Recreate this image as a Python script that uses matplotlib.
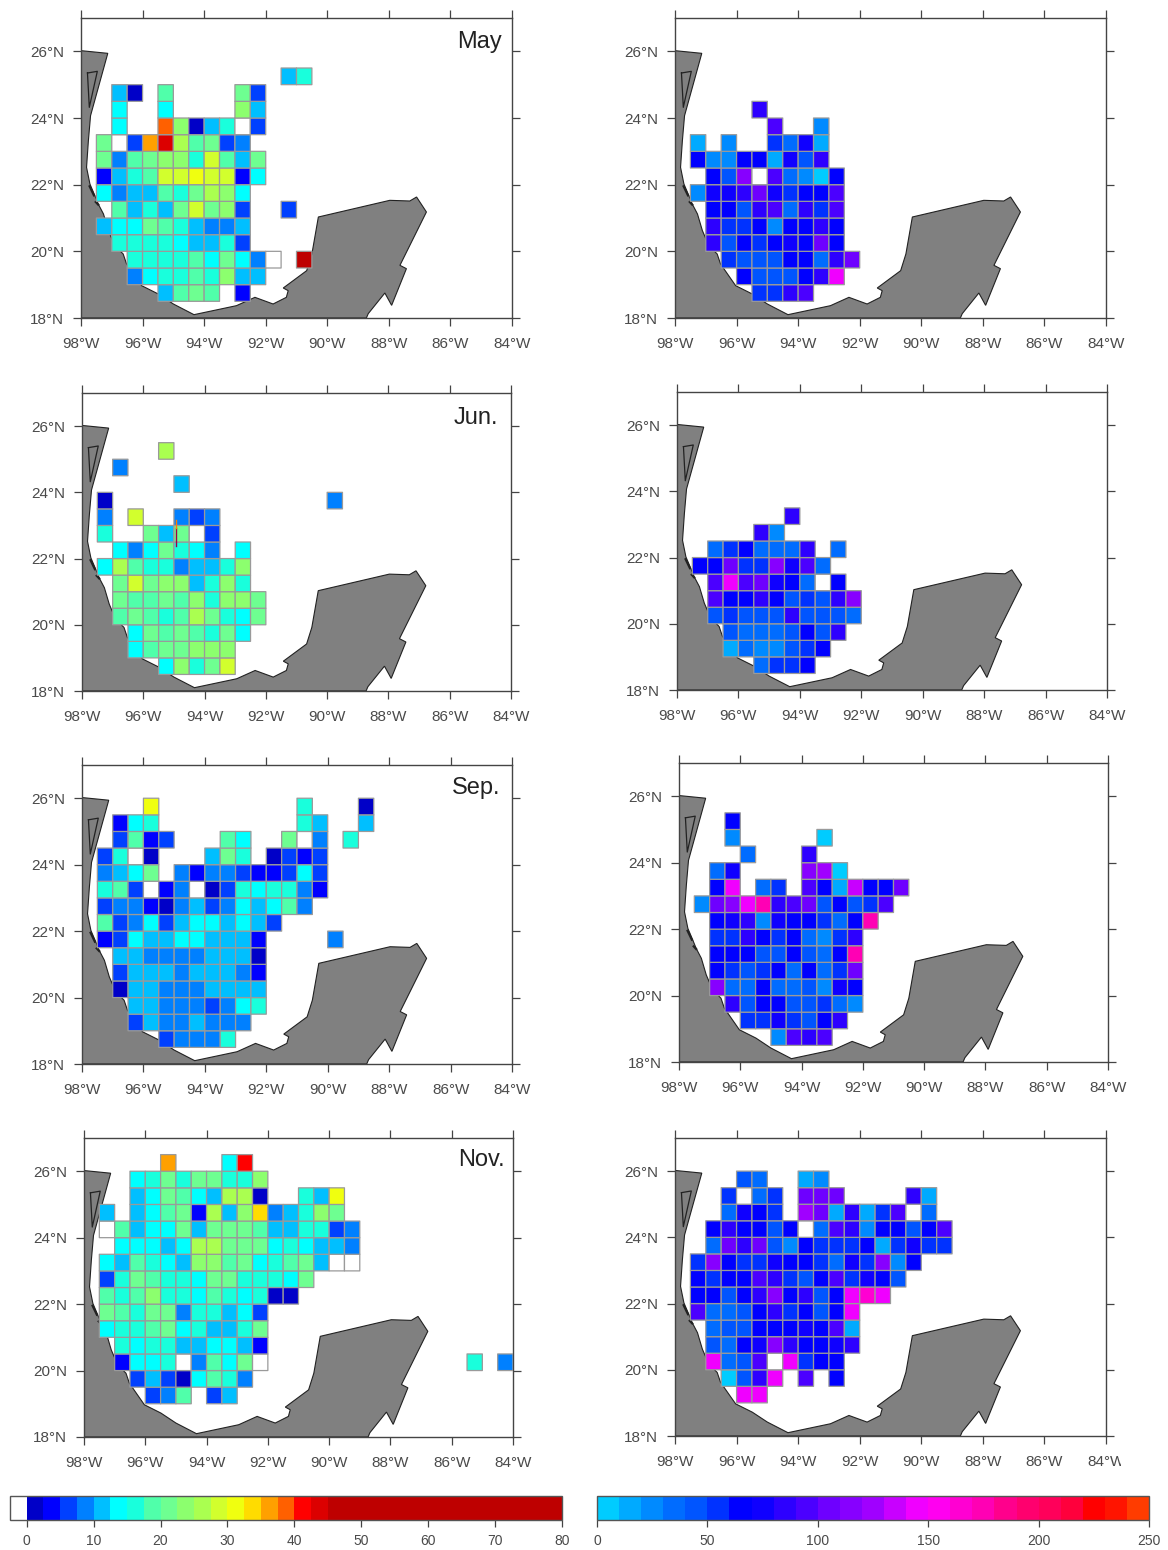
import matplotlib
matplotlib.use('Agg')
import matplotlib.pyplot as plt
import numpy as np
from matplotlib.colors import ListedColormap, BoundaryNorm
from matplotlib.cm import ScalarMappable
from matplotlib.transforms import Bbox

plt.rcParams['font.family'] = ['Liberation Sans', 'DejaVu Sans']

W, H = 1168, 1550
N = None

months = ['May', 'Jun.', 'Sep.', 'Nov.']
lon_ticks = [-98, -96, -94, -92, -90, -88, -86, -84]
lat_ticks = [18, 20, 22, 24, 26]

# each row: south edge of the cell, first column (0.5 deg steps from 98W), values
# -1 means a cell below zero (drawn white)
may_left = [
    (25.0, 13, [11, 16]),
    (24.5, 2, [11, 1, N, 18, N, N, N, N, 21, 6]),
    (24.0, 2, [14, N, N, 14, N, N, N, N, 24, 11]),
    (23.5, 2, [14, N, N, 39, 24, 1, 11, 16, -1, 6]),
    (23.0, 1, [21, -1, 6, 36, 43, 26, 18, 21, 6, 8]),
    (22.5, 1, [21, 8, 18, 21, 23, 24, 16, 28, 18, 11, 21]),
    (22.0, 1, [3, 11, 16, 18, 28, 29, 31, 28, 29, 3, 14]),
    (21.5, 1, [14, 8, 11, 11, 18, 16, 20, 26, 23, 14]),
    (21.0, 2, [18, 11, 16, 11, 21, 28, 21, 23, 6, N, N, 6]),
    (20.5, 1, [11, 14, 14, 21, 18, 16, 11, 8, 8, 11]),
    (20.0, 2, [16, 16, 16, 16, 14, 11, 11, 16, 6]),
    (19.5, 3, [16, 16, 16, 16, 18, 14, 21, 14, 8, -1, N, 60]),
    (19.0, 3, [8, 14, 16, 16, 18, 16, 23, 11, 11]),
    (18.5, 5, [11, 18, 21, 18, N, 3]),
]
may_right = [
    (24.0, 5, [85]),
    (23.5, 6, [90, N, N, 25]),
    (23.0, 1, [15, N, 25, N, N, 50, 35, 75, 15]),
    (22.5, 1, [60, 25, 20, 65, 65, 12, 75, 45, 85]),
    (22.0, 2, [65, 45, 115, -1, 90, 35, 20, 5, 65]),
    (21.5, 1, [25, 70, 70, 85, 105, 70, 50, 65, 60, 95]),
    (21.0, 2, [65, 65, 42, 85, 90, 35, 85, 50, 90]),
    (20.5, 2, [85, 50, 50, 65, 25, 65, 65, 85, 65]),
    (20.0, 2, [85, 45, 65, 50, 65, 75, 65, 105, 65]),
    (19.5, 3, [50, 45, 45, 45, 65, 65, 35, 85, 105]),
    (19.0, 4, [65, 45, 45, 45, 65, 80, 145]),
    (18.5, 5, [50, 50, 85, 90]),
]
jun_left = [
    (25.0, 5, [26]),
    (24.5, 2, [8]),
    (24.0, 6, [11]),
    (23.5, 1, [2, N, N, N, N, N, N, N, N, N, N, N, N, N, N, 8]),
    (23.0, 1, [8, N, 28, N, N, 8, 6, 8]),
    (22.5, 1, [16, N, N, 21, 11, 21, -1, 6]),
    (22.0, 2, [14, 8, 14, 21, 16, 14, 8, N, 14]),
    (21.5, 1, [14, 26, 18, 16, 16, 8, 11, 11, 16, 24]),
    (21.0, 2, [21, 28, 20, 23, 23, 11, 16, 23, 16]),
    (20.5, 2, [20, 18, 18, 20, 18, 23, 16, 23, 23, 21]),
    (20.0, 2, [18, 21, 18, 16, 18, 26, 20, 16, 14, 21]),
    (19.5, 3, [14, 21, 18, 21, 18, 16, 20, 14]),
    (19.0, 3, [14, 18, 21, 21, 23, 23, 24]),
    (18.5, 5, [14, 23, 16, 21, 28]),
]
jun_right = [
    (23.0, 7, [85]),
    (22.5, 5, [80, 22]),
    (22.0, 2, [35, 50, 62, 35, 30, 35, 80, N, 35]),
    (21.5, 1, [62, 65, 105, 50, 50, 115, 78, 95, 35]),
    (21.0, 2, [90, 145, 90, 100, 75, 65, 35, -1, 62]),
    (20.5, 2, [90, 62, 62, 85, 62, 45, 50, 45, 85, 115]),
    (20.0, 2, [45, 50, 45, 45, 45, 80, 45, 45, 45, 35]),
    (19.5, 3, [45, 35, 35, 35, 45, 62, 45, 80]),
    (19.0, 3, [15, 35, 22, 22, 45, 50, 62]),
    (18.5, 5, [35, 50, 50, 62]),
]
sep_left = [
    (25.5, 4, [30, N, N, N, N, N, N, N, N, N, 16, N, N, N, 2]),
    (25.0, 2, [3, 14, 16, N, N, N, N, N, N, N, N, N, 16, 11, N, N, 11]),
    (24.5, 2, [6, 18, 3, 6, N, N, N, 18, 14, N, N, 21, -1, 8, N, 16]),
    (24.0, 1, [6, 16, -1, 2, N, N, N, 11, 21, 16, N, 1, 6, 3, 6]),
    (23.5, 1, [8, 11, 14, 21, N, 8, 3, 8, 8, 6, 3, 3, 6, 14, 6]),
    (23.0, 1, [16, 18, 6, -1, 3, 8, -1, 1, 6, 16, 14, 16, 16, 8, 3]),
    (22.5, 1, [6, 8, 8, 3, 2, 8, 11, 6, 8, 14, 11, 14, 18, 8]),
    (22.0, 1, [18, 6, 8, 14, 6, 11, 14, 14, 11, 14, 11, 6]),
    (21.5, 1, [3, 6, 14, 11, 11, 14, 14, 11, 11, 11, 3, N, N, N, N, 8]),
    (21.0, 2, [11, 11, 8, 8, 8, 8, 11, 11, 11, 1]),
    (20.5, 2, [6, 11, 11, 11, 8, 11, 11, 11, 8, 3]),
    (20.0, 2, [1, 11, 11, 8, 8, 8, 11, 11, 11, 11]),
    (19.5, 3, [11, 11, 8, 8, 8, 6, 8, 14, 16]),
    (19.0, 3, [6, 11, 8, 8, 11, 8, 8, 8]),
    (18.5, 5, [6, 8, 8, 8, 16]),
]
sep_right = [
    (25.0, 3, [65]),
    (24.5, 3, [25, N, N, N, N, N, 5]),
    (24.0, 4, [35, N, N, N, 80]),
    (23.5, 2, [35, 70, N, N, N, N, 115, 120, 5]),
    (23.0, 2, [65, 145, N, 35, 50, N, 95, 65, 12, 135, 65, 65, 100]),
    (22.5, 1, [25, 100, 115, 145, 170, 85, 95, 105, 45, 62, 42, 50, 95]),
    (22.0, 2, [65, 70, 85, 20, 70, 65, 65, 50, 30, 65, 175]),
    (21.5, 2, [50, 50, 85, 65, 50, 65, 35, 22, 50, 85]),
    (21.0, 2, [65, 62, 62, 45, 45, 65, 45, 35, 65, 175]),
    (20.5, 2, [65, 50, 45, 50, 62, 35, 65, 35, 50, 105]),
    (20.0, 2, [115, 35, 35, 65, 35, 35, 45, 20, 70, 65]),
    (19.5, 3, [85, 45, 62, 65, 45, 45, 50, 35, 22]),
    (19.0, 4, [50, 50, 70, 50, 45, 65, 85]),
    (18.5, 6, [22, 90, 80, 90]),
]
nov_left = [
    (26.0, 5, [36, N, N, N, 14, 41]),
    (25.5, 3, [14, 16, 21, 16, 21, 21, 16, 16, 23]),
    (25.0, 3, [11, 14, 21, 18, 14, 11, 26, 26, 1, N, N, 16, 11, 31]),
    (24.5, 1, [11, N, 11, 14, 18, 21, 3, 26, 11, 23, 33, 8, 11, 16, 24, 21]),
    (24.0, 1, [-1, 18, 11, 14, 14, 21, 11, 20, 20, 21, 18, 11, 11, 16, 16, 6, 8]),
    (23.5, 2, [14, 14, 14, 11, 14, 26, 26, 21, 21, 21, 14, 16, 14, 11, 11, 8]),
    (23.0, 1, [14, 11, 18, 16, 14, 11, 23, 23, 18, 20, 14, 16, 18, 21, 11, -1, -1]),
    (22.5, 1, [6, 16, 21, 18, 16, 16, 14, 21, 21, 16, 16, 16, 14, 21]),
    (22.0, 1, [18, 16, 18, 23, 16, 16, 14, 18, 16, 14, 16, 1, 1]),
    (21.5, 1, [21, 18, 16, 21, 21, 8, 16, 16, 11, 14, 6]),
    (21.0, 1, [14, 16, 16, 18, 21, 14, 16, 11, 11, 16, 21]),
    (20.5, 2, [16, 14, 16, 16, 11, 11, 14, 14, 11, 3]),
    (20.0, 2, [3, 14, 14, 16, -1, 8, 18, 14, 21, -1, N, N, N, N, N, N, N, N, N, N, N, N, N, 16, N, 8]),
    (19.5, 3, [6, 11, 6, 2, 14, 18, 16, 8]),
    (19.0, 4, [6, 8, 18, N, 6, 11]),
]
nov_right = [
    (25.5, 4, [42, 30, N, N, 15, 20]),
    (25.0, 3, [50, -1, 35, 50, N, 105, 105, 100, N, N, N, N, 85, 15]),
    (24.5, 3, [35, 70, 65, 50, N, 125, 105, 15, 80, 15, 50, 90, -1, 35]),
    (24.0, 2, [65, 85, 65, 65, 45, 62, -1, 35, 90, 80, 20, 62, 62, 45, 65, 90]),
    (23.5, 2, [35, 105, 80, 105, 45, 20, 68, 55, 50, 55, 65, 15, 50, 75, 50, 55]),
    (23.0, 1, [50, 110, 65, 50, 50, 78, 62, 68, 50, 35, 75, 50, 110, 20, 65]),
    (22.5, 1, [62, 50, 65, 62, 90, 85, 50, 45, 62, 90, 50, 75, 65, 42]),
    (22.0, 1, [62, 62, 45, 62, 80, 115, 62, 80, 45, 65, 145, 165, 145]),
    (21.5, 1, [90, 35, 35, 45, 62, 85, 50, 62, 45, 65, 145]),
    (21.0, 2, [35, 45, 42, 65, 62, 65, 78, 65, 90, 15]),
    (20.5, 2, [45, 35, 62, 78, 115, 85, 65, 65, 78, 85]),
    (20.0, 2, [145, 35, 45, 90, -1, 145, 50, 62, 62]),
    (19.5, 3, [5, 45, 80, 145, N, 95, N, 62]),
    (19.0, 4, [145, 145]),
]

# thin stray streak in the June panel
jun_streak_lon = -94.94
jun_streak_lat = [22.38, 22.93, 23.15]

coast_lon = [-98, -97.13, -97.69, -97.76, -97.82, -97.71, -97.55, -97.44, -97.27, -97.11, -96.9,
             -96.63, -96.52, -96.03, -95.49, -95.0, -94.33, -92.95, -92.35, -91.76, -91.33, -91.27,
             -91.43, -90.67, -90.5, -90.29, -87.97, -87.32, -87.1, -86.78, -87.64, -87.43, -87.91,
             -88.13, -88.67, -88.73, -98]
coast_lat = [26.02, 25.94, 24.07, 23.32, 22.52, 22.02, 21.67, 21.42, 21.12, 20.62, 20.17,
             19.92, 19.62, 18.97, 18.72, 18.42, 18.1, 18.37, 18.62, 18.42, 18.62, 18.82,
             18.9, 19.42, 19.92, 21.03, 21.53, 21.51, 21.63, 21.18, 19.58, 19.48, 18.38,
             18.75, 18.13, 18.0, 18.0]
lagoon_lon = [-97.79, -97.47, -97.73, -97.79]
lagoon_lat = [25.35, 25.40, 24.32, 25.35]
shoal_lon = [-97.72, -97.58, np.nan, -97.52, -97.44]
shoal_lat = [21.95, 21.68, np.nan, 21.48, 21.40]

left_levels = [-2.5, 0, 2.5, 5, 7.5, 10, 12.5, 15, 17.5, 20, 22.5, 25, 27.5, 30, 32.5, 35, 37.5, 40, 42.5, 45, 80]
left_colors = ['#ffffff', '#0000c8', '#0000ff', '#0040ff', '#0080ff', '#00bfff', '#00ffff', '#19ffdc',
               '#50ffaa', '#6eff91', '#8cff6e', '#aaff50', '#d2ff2d', '#f0ff0f', '#ffdc00', '#ffa000',
               '#ff6000', '#ff0000', '#dc0000', '#be0000']
left_ticks = [0, 10, 20, 30, 40, 50, 60, 70, 80]
right_levels = [-10] + list(range(0, 260, 10))
right_colors = ['#ffffff', '#00ccff', '#00aaff', '#008aff', '#006cff', '#0055ff', '#0032ff', '#0000ff',
                '#0f00ff', '#2d00ff', '#4b00ff', '#6e00ff', '#8700ff', '#a000ff', '#c800ff', '#f000ff',
                '#ff00f0', '#ff00d2', '#ff00b4', '#ff008c', '#ff006e', '#ff005a', '#ff003c', '#ff0000',
                '#ff1400', '#ff3c00']
right_ticks = [0, 50, 100, 150, 200, 250]

# panel frames in pixels: left, right, top, bottom
frames = [
    (81, 512, 18, 318), (675, 1106, 18, 318),
    (82, 511, 393, 691), (677, 1107, 392, 690),
    (82, 512, 765, 1064), (679, 1108, 763, 1062),
    (84, 513, 1138, 1437), (675, 1106, 1138, 1436),
]
panels = [may_left, may_right, jun_left, jun_right, sep_left, sep_right, nov_left, nov_right]
month_pos = [(502, 42), (498, 418), (500, 788), (505, 1160)]

left_cmap = ListedColormap(left_colors)
left_norm = BoundaryNorm(left_levels, left_cmap.N)
right_cmap = ListedColormap(right_colors)
right_norm = BoundaryNorm(right_levels, right_cmap.N)

grey = '#444444'
cell_edge = '#9a9a9a'
text_col = '#4a4a4a'


def px_axes(l, r, t, b):
    return fig.add_axes([l / W, 1 - b / H, (r - l) / W, (b - t) / H])


def to_grid(rows):
    grid = np.full((18, 28), np.nan)
    for lat, col, vals in rows:
        j = int((lat - 18) * 2)
        for i, v in enumerate(vals):
            if v is not None:
                grid[j, col + i] = v
    return np.ma.masked_invalid(grid)


fig = plt.figure(figsize=(W / 100, H / 100), dpi=100)
lon_edges = np.arange(-98, -83.9, 0.5)
lat_edges = np.arange(18, 27.1, 0.5)

for k, (frame, rows) in enumerate(zip(frames, panels)):
    ax = px_axes(*frame)
    ax.fill(coast_lon, coast_lat, facecolor='#808080', edgecolor='#222222', lw=0.8, zorder=1)
    ax.plot(lagoon_lon, lagoon_lat, color='#222222', lw=0.9, zorder=2)
    ax.plot(shoal_lon, shoal_lat, color='#222222', lw=1.6, zorder=2)
    if k % 2 == 0:
        cmap, norm = left_cmap, left_norm
    else:
        cmap, norm = right_cmap, right_norm
    ax.pcolor(lon_edges, lat_edges, to_grid(rows), cmap=cmap, norm=norm,
              edgecolors=cell_edge, linewidth=0.9, zorder=3)
    ax.set_xlim(-98, -84)
    ax.set_ylim(18, 27)
    ax.set_xticks(lon_ticks)
    ax.set_xticklabels(['%d\u00b0W' % abs(v) for v in lon_ticks])
    ax.set_yticks(lat_ticks)
    ax.set_yticklabels(['%d\u00b0N' % v for v in lat_ticks])
    ax.tick_params(direction='out', top=True, right=True, length=6, width=0.9, color=grey,
                   labelsize=11, labelcolor=text_col)
    ax.tick_params(axis='x', pad=8)
    ax.tick_params(axis='y', pad=6)
    for s in ax.spines.values():
        s.set_color(grey)
        s.set_linewidth(1.0)
    if k == 2:
        ax.plot([jun_streak_lon] * 2, jun_streak_lat[:2], color='#a0004a', lw=1.0, zorder=4)
        ax.plot([jun_streak_lon] * 2, jun_streak_lat[1:], color='#ff8000', lw=1.0, zorder=4)
    if k % 2 == 0:
        mx, my = month_pos[k // 2]
        fig.text(mx / W, 1 - my / H, months[k // 2], fontsize=17, color='#222222',
                 ha='right', va='center')
    if k == 7:
        # the last label is cut off by the edge of the source image
        clip = Bbox([[0, 0], [1121, H]])
        ax.get_xticklabels()[-1].set_clip_box(clip)
        ax.get_xticklabels()[-1].set_clip_on(True)

# colour bars
cax1 = px_axes(10, 562, 1496, 1520)
cb1 = fig.colorbar(ScalarMappable(norm=left_norm, cmap=left_cmap), cax=cax1, orientation='horizontal',
                   spacing='proportional', ticks=left_ticks)
cax2 = px_axes(597, 1149, 1496, 1520)
cb2 = fig.colorbar(ScalarMappable(norm=BoundaryNorm(right_levels[1:], right_cmap.N - 1),
                                  cmap=ListedColormap(right_colors[1:])),
                   cax=cax2, orientation='horizontal', spacing='proportional', ticks=right_ticks)
for cb in (cb1, cb2):
    cb.minorticks_off()
    cb.ax.tick_params(length=5, width=0.9, color=grey, labelsize=10, labelcolor=text_col, pad=5)
    cb.outline.set_edgecolor('#555555')
    cb.outline.set_linewidth(1.0)

fig.savefig('out.png', dpi=100)
plt.close()
